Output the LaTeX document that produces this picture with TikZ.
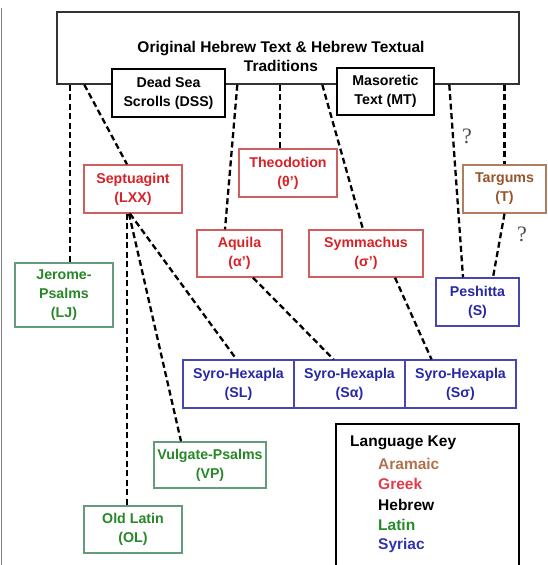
\documentclass[tikz,border=0pt]{standalone}
\usepackage{fontspec}
\setmainfont{Liberation Sans}
\newfontfamily\qfont{Liberation Serif}
\usetikzlibrary{positioning}

\definecolor{greektext}{RGB}{215,35,40}
\definecolor{greekline}{RGB}{205,95,95}
\definecolor{latintext}{RGB}{40,135,40}
\definecolor{latinline}{RGB}{100,155,125}
\definecolor{syrtext}{RGB}{40,40,165}
\definecolor{syrline}{RGB}{70,70,175}
\definecolor{aramtext}{RGB}{150,85,45}
\definecolor{aramline}{RGB}{175,125,95}
\definecolor{keyaram}{RGB}{175,115,75}
\definecolor{keygreek}{RGB}{225,60,75}
\definecolor{keylatin}{RGB}{40,140,40}
\definecolor{keysyr}{RGB}{50,50,175}

\begin{document}
\begin{tikzpicture}[
    x=1pt, y=-1pt,
    block/.style={rectangle, draw, line width=1.4pt, fill=white, inner sep=0pt,
    align=center, font=\fontsize{14.2}{19}\selectfont\bfseries},
    greek/.style={block, draw=greekline, text=greektext},
    latin/.style={block, draw=latinline, text=latintext},
    syriac/.style={block, draw=syrline, text=syrtext},
    aramaic/.style={block, draw=aramline, text=aramtext},
    link/.style={line width=2.3pt, dash pattern=on 6pt off 3.5pt},
    query/.style={font=\qfont\fontsize{22}{22}\selectfont, text=black!70},
    keyitem/.style={anchor=west, inner sep=0pt, font=\fontsize{15.5}{16}\selectfont\bfseries}
]
\useasboundingbox (0,0) rectangle (547,565);
\draw[black!50, line width=1pt] (1.5,8) -- (1.5,565);

% ---------------- HEBREW ----------------
\node[block, draw=black!80, minimum width=462pt, minimum height=72pt] (orig) at (288,48) {};
\node[font=\fontsize{15.5}{19}\selectfont\bfseries, align=center] (title) at (281,56.5)
{Original Hebrew Text \& Hebrew Textual\\Traditions};

\node[block, minimum width=113pt, minimum height=48pt] (dss) at (168.5,93)
{Dead Sea\\Scrolls (DSS)};
\node[block, minimum width=97pt, minimum height=47pt] (mt) at (385.5,91.5)
{Masoretic\\Text (MT)};

% ---------------- GREEK / ARAMAIC ----------------
\node[greek, minimum width=98pt, minimum height=48pt] (sept) at (133,189)
{Septuagint\\(LXX)};
\node[greek, minimum width=98pt, minimum height=48pt] (theo) at (288,173)
{Theodotion\\(θ')};
\node[greek, minimum width=85pt, minimum height=47pt] (aquila) at (239.5,253.5)
{Aquila\\(α')};
\node[greek, minimum width=114pt, minimum height=47pt] (symm) at (366,253.5)
{Symmachus\\(σ')};
\node[aramaic, minimum width=83pt, minimum height=48pt] (targ) at (504.5,189)
{Targums\\(T)};

% ---------------- SYRIAC ----------------
\node[syriac, minimum width=83pt, minimum height=48pt] (pesh) at (477.5,302)
{Peshitta\\(S)};
\node[syriac, minimum width=111pt, minimum height=48pt] (sl) at (238.5,384)
{Syro-Hexapla\\(SL)};
\node[syriac, minimum width=111pt, minimum height=48pt, right=-1.4pt of sl] (sa)
{Syro-Hexapla\\(Sα)};
\node[syriac, minimum width=111pt, minimum height=48pt, right=-1.4pt of sa] (ss)
{Syro-Hexapla\\(Sσ)};

% ---------------- LATIN ----------------
\node[latin, minimum width=98pt, minimum height=64pt] (jerome) at (64,295)
{Jerome-\\Psalms\\(LJ)};
\node[latin, minimum width=112pt, minimum height=46pt] (vp) at (210,465)
{Vulgate-Psalms\\(VP)};
\node[latin, minimum width=98pt, minimum height=47pt] (ol) at (133,529.5)
{Old Latin\\(OL)};

% ---------------- LINKS ----------------
\draw[link] ([xshift=6pt]jerome.north |- orig.south) -- ([xshift=6pt]jerome.north);
\draw[link] ([xshift=28pt]orig.south west) -- ([xshift=-6pt]sept.north);
\draw[link] ([xshift=181pt]orig.south west) -- ([xshift=-14.5pt]aquila.north);
\draw[link] ([xshift=-8pt]theo.north |- orig.south) -- ([xshift=-8pt]theo.north);
\draw[link] ([xshift=266pt]orig.south west) -- ([xshift=-3pt]symm.north);
\draw[link] ([xshift=393pt]orig.south west) -- ([xshift=-14.5pt]pesh.north);
\draw[link] (targ.north |- orig.south) -- (targ.north);
\draw[link] (targ.south) -- ([xshift=15.5pt]pesh.north);

\draw[link] ([xshift=-6pt]sept.south) -- ([xshift=-6pt]sept.south |- ol.north);
\draw[link] ([xshift=-4pt]sept.south) -- ([xshift=-29pt]vp.north);
\draw[link] ([xshift=-3pt]sept.south) -- ([xshift=-2pt]sl.north);
\draw[link] ([xshift=13.5pt]aquila.south) -- ([xshift=-16pt]sa.north);
\draw[link] ([xshift=29pt]symm.south) -- ([xshift=-29pt]ss.north);

\node[query] (q1) at (467,136) {?};
\node[query] (q2) at (522,234) {?};

% ---------------- KEY ----------------
\node[draw, line width=2.4pt, minimum width=183pt, minimum height=152pt] (key) at (427.5,500) {};
\node[keyitem] (keytitle) at (350,443) {Language Key};
\node[keyitem, text=keyaram] (karam) at (378,463.5) {Aramaic};
\node[keyitem, text=keygreek] (kgreek) at (378,484) {Greek};
\node[keyitem] (kheb) at (378,504.5) {Hebrew};
\node[keyitem, text=keylatin] (klatin) at (378,525) {Latin};
\node[keyitem, text=keysyr] (ksyr) at (378,545.5) {Syriac};

\end{tikzpicture}
\end{document}
